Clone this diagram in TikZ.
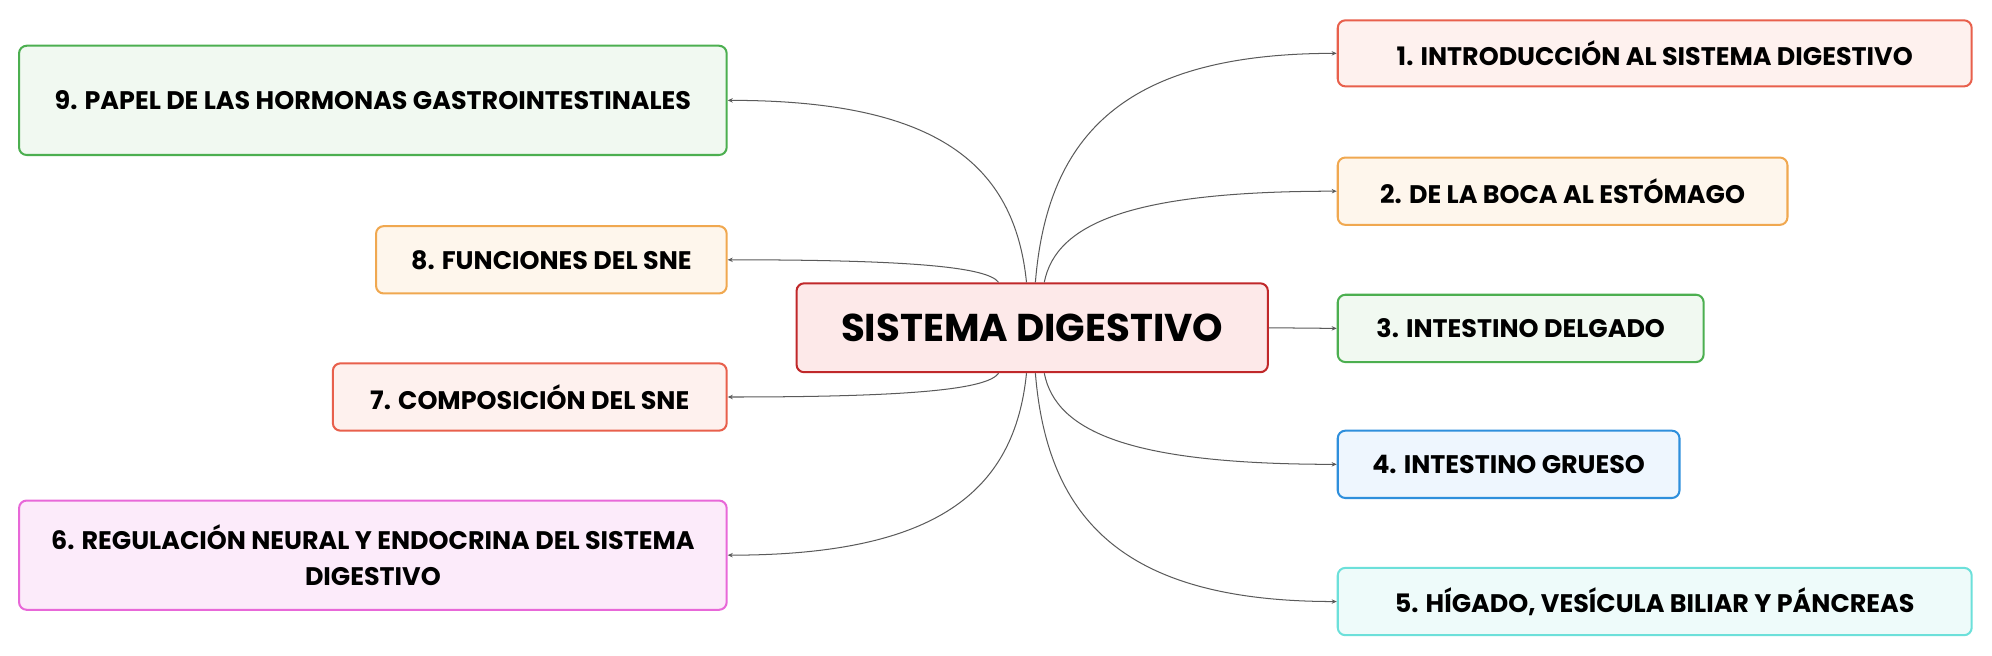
\documentclass[tikz,border=0pt]{standalone}
\usepackage{fontspec}
\setmainfont{Poppins}
\usetikzlibrary{arrows.meta,calc}
\definecolor{linegray}{HTML}{5A5A5A}
\definecolor{cdraw}{HTML}{C0282A}\definecolor{cfill}{HTML}{FDE9E9}
\definecolor{rdraw}{HTML}{E8604C}\definecolor{rfill}{HTML}{FEF1EE}
\definecolor{odraw}{HTML}{F0A850}\definecolor{ofill}{HTML}{FEF6EC}
\definecolor{gdraw}{HTML}{4CAF50}\definecolor{gfill}{HTML}{F1F9F1}
\definecolor{bdraw}{HTML}{2E8FDC}\definecolor{bfill}{HTML}{EEF6FE}
\definecolor{tdraw}{HTML}{6CE0DA}\definecolor{tfill}{HTML}{EEFBFA}
\definecolor{mdraw}{HTML}{E868D8}\definecolor{mfill}{HTML}{FCEBFA}
\tikzset{
  box/.style={rounded corners=6pt, line width=1.6pt, align=center, inner sep=0pt,
    font=\fontsize{20}{29}\selectfont\bfseries, text=black},
  central/.style={box, draw=cdraw, fill=cfill, font=\fontsize{30.5}{34}\selectfont\bfseries},
  conn/.style={draw=linegray, line width=0.8pt, -{Stealth[length=4pt,width=3.5pt]}},
}
\newcommand{\mmconn}[2]{\draw[conn] let \p1=(#1), \p2=(#2) in (\p1) .. controls ({\x1+0.04*(\x2-\x1)},{\y1+0.65*(\y2-\y1)}) and ({\x1+0.3*(\x2-\x1)},{\y2}) .. (\p2);}
\begin{document}
\begin{tikzpicture}[x=1pt,y=-1pt]
\useasboundingbox (0,0) rectangle (1568,516);
\node[central, minimum width=371pt, minimum height=70pt] (c) at (812.5,258) {SISTEMA DIGESTIVO};
\node[box, draw=rdraw, fill=rfill, minimum width=499pt, minimum height=52pt] (n1) at (1302.5,42) {1. INTRODUCCIÓN AL SISTEMA DIGESTIVO};
\node[box, draw=odraw, fill=ofill, minimum width=354pt, minimum height=53pt] (n2) at (1230,150.5) {2. DE LA BOCA AL ESTÓMAGO};
\node[box, draw=gdraw, fill=gfill, minimum width=288pt, minimum height=53pt] (n3) at (1197,258.5) {3. INTESTINO DELGADO};
\node[box, draw=bdraw, fill=bfill, minimum width=269pt, minimum height=53pt] (n4) at (1187.5,365.5) {4. INTESTINO GRUESO};
\node[box, draw=tdraw, fill=tfill, minimum width=499pt, minimum height=53pt] (n5) at (1302.5,473.5) {5. HÍGADO, VESÍCULA BILIAR Y PÁNCREAS};
\node[box, draw=gdraw, fill=gfill, minimum width=557pt, minimum height=86pt] (n9) at (293.5,79) {9. PAPEL DE LAS HORMONAS GASTROINTESTINALES};
\node[box, draw=odraw, fill=ofill, minimum width=276pt, minimum height=53pt] (n8) at (434,204.5) {8. FUNCIONES DEL SNE};
\node[box, draw=rdraw, fill=rfill, minimum width=310pt, minimum height=53pt] (n7) at (417,312.5) {7. COMPOSICIÓN DEL SNE};
\node[box, draw=mdraw, fill=mfill, minimum width=557pt, minimum height=86pt] (n6) at (293.5,437) {6. REGULACIÓN NEURAL Y ENDOCRINA DEL SISTEMA\\DIGESTIVO};
\coordinate (s1) at ($(c.north)+(2.5,0)$);
\coordinate (s2) at ($(c.north)+(9.5,0)$);
\coordinate (s4) at ($(c.south)+(9.5,0)$);
\coordinate (s5) at ($(c.south)+(2.5,0)$);
\coordinate (s9) at ($(c.north)+(-4.5,0)$);
\coordinate (s8) at ($(c.north)+(-26.5,0)$);
\coordinate (s7) at ($(c.south)+(-26.5,0)$);
\coordinate (s6) at ($(c.south)+(-4.5,0)$);
\mmconn{s1}{n1.west}
\mmconn{s2}{n2.west}
\draw[conn] (c.east) -- (n3.west);
\mmconn{s4}{n4.west}
\mmconn{s5}{n5.west}
\mmconn{s9}{n9.east}
\mmconn{s8}{n8.east}
\mmconn{s7}{n7.east}
\mmconn{s6}{n6.east}
\end{tikzpicture}
\end{document}
